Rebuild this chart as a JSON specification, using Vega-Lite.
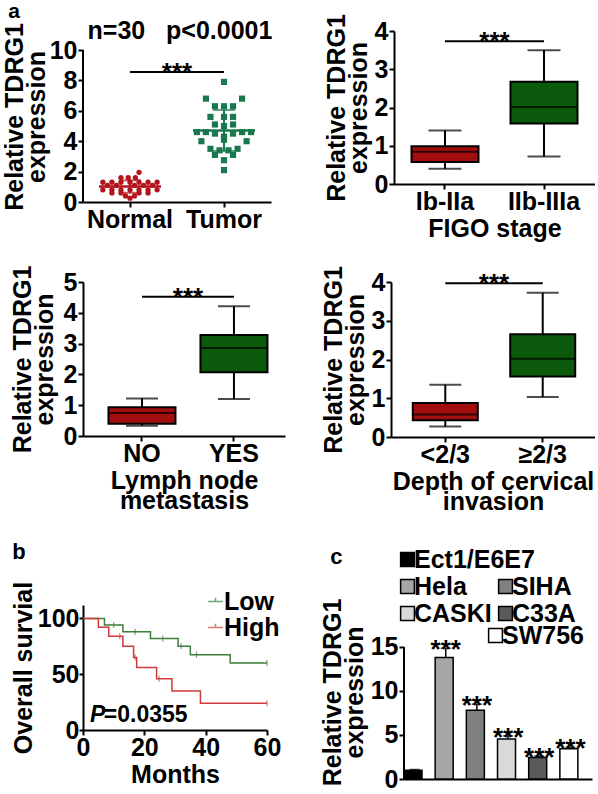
{
  "$schema": "https://vega.github.io/schema/vega-lite/v6.json",
  "background": "white",
  "padding": {"left": 2, "top": 0, "right": 0, "bottom": 0},
  "title": {"text": "a", "anchor": "start", "fontSize": 21, "offset": -8, "dx": 6},
  "config": {
    "font": "Liberation Sans",
    "view": {"stroke": null},
    "axis": {"labelFont": "Liberation Sans", "labelFontSize": 25, "labelFontWeight": "bold", "labelColor": "black", "titleFont": "Liberation Sans", "titleFontSize": 25, "titleFontWeight": "bold", "titleColor": "black", "domainColor": "black", "domainWidth": 2, "tickColor": "black", "tickWidth": 2, "tickSize": 5, "grid": false, "labelPadding": 1, "labelFlush": false, "labelOverlap": false},
    "axisX": {"titlePadding": 2, "labelPadding": 0, "titleLineHeight": 20},
    "axisY": {"titlePadding": 3, "titleLineHeight": 22},
    "title": {"font": "Liberation Sans", "fontWeight": "bold", "color": "black", "fontSize": 22},
    "legend": {"labelFont": "Liberation Sans", "labelFontSize": 25, "labelFontWeight": "bold", "labelColor": "black", "padding": 0},
    "text": {"font": "Liberation Sans", "fontWeight": "bold", "color": "black"}
  },
  "datasets": {
    "scatter": [
      {"g": "Normal", "v": 1.95, "j": 1}, {"g": "Normal", "v": 1.6, "j": -1}, {"g": "Normal", "v": 1.6, "j": -0.2}, {"g": "Normal", "v": 1.6, "j": 0.6},
      {"g": "Normal", "v": 1.3, "j": -3}, {"g": "Normal", "v": 1.3, "j": -2}, {"g": "Normal", "v": 1.3, "j": -1}, {"g": "Normal", "v": 1.3, "j": 0},
      {"g": "Normal", "v": 1.3, "j": 1}, {"g": "Normal", "v": 1.3, "j": 2}, {"g": "Normal", "v": 1.3, "j": 3},
      {"g": "Normal", "v": 1.1, "j": -2.5}, {"g": "Normal", "v": 1.1, "j": -1.5}, {"g": "Normal", "v": 1.1, "j": 0.5}, {"g": "Normal", "v": 1.1, "j": 1.5}, {"g": "Normal", "v": 1.1, "j": 2.5},
      {"g": "Normal", "v": 0.8, "j": -3}, {"g": "Normal", "v": 0.8, "j": -2}, {"g": "Normal", "v": 0.8, "j": -1}, {"g": "Normal", "v": 0.8, "j": 0},
      {"g": "Normal", "v": 0.8, "j": 1}, {"g": "Normal", "v": 0.8, "j": 2}, {"g": "Normal", "v": 0.8, "j": 3},
      {"g": "Normal", "v": 0.6, "j": -2}, {"g": "Normal", "v": 0.6, "j": -1}, {"g": "Normal", "v": 0.6, "j": 1}, {"g": "Normal", "v": 0.6, "j": 2},
      {"g": "Normal", "v": 0.4, "j": -0.5}, {"g": "Normal", "v": 0.4, "j": 0.5}, {"g": "Normal", "v": 0.25, "j": 0},
      {"g": "Tumor", "v": 7.9, "j": 0}, {"g": "Tumor", "v": 6.8, "j": -2}, {"g": "Tumor", "v": 6.8, "j": 2},
      {"g": "Tumor", "v": 6.3, "j": -1}, {"g": "Tumor", "v": 6.3, "j": 0}, {"g": "Tumor", "v": 6.3, "j": 1},
      {"g": "Tumor", "v": 5.6, "j": -1.5}, {"g": "Tumor", "v": 5.6, "j": 0}, {"g": "Tumor", "v": 5.6, "j": 1},
      {"g": "Tumor", "v": 5.1, "j": -1}, {"g": "Tumor", "v": 5.1, "j": 1}, {"g": "Tumor", "v": 5.0, "j": 0},
      {"g": "Tumor", "v": 4.6, "j": -3}, {"g": "Tumor", "v": 4.6, "j": -2}, {"g": "Tumor", "v": 4.5, "j": -1}, {"g": "Tumor", "v": 4.5, "j": 1},
      {"g": "Tumor", "v": 4.6, "j": 2}, {"g": "Tumor", "v": 4.6, "j": 3}, {"g": "Tumor", "v": 4.3, "j": 0},
      {"g": "Tumor", "v": 4.0, "j": -2.5}, {"g": "Tumor", "v": 4.0, "j": 2.5}, {"g": "Tumor", "v": 4.1, "j": 0},
      {"g": "Tumor", "v": 3.5, "j": -1.5}, {"g": "Tumor", "v": 3.4, "j": -0.5}, {"g": "Tumor", "v": 3.4, "j": 0.5}, {"g": "Tumor", "v": 3.5, "j": 1.5},
      {"g": "Tumor", "v": 3.1, "j": -1}, {"g": "Tumor", "v": 3.1, "j": 1}, {"g": "Tumor", "v": 2.75, "j": 0}, {"g": "Tumor", "v": 2.1, "j": 0}
    ],
    "km": [
      {"grp": "Low", "m": 0, "s": 100}, {"grp": "Low", "m": 7, "s": 94}, {"grp": "Low", "m": 13, "s": 88}, {"grp": "Low", "m": 22, "s": 82},
      {"grp": "Low", "m": 31, "s": 75}, {"grp": "Low", "m": 35, "s": 67.5}, {"grp": "Low", "m": 48, "s": 60}, {"grp": "Low", "m": 60, "s": 60},
      {"grp": "High", "m": 0, "s": 100}, {"grp": "High", "m": 5, "s": 92}, {"grp": "High", "m": 8.4, "s": 84}, {"grp": "High", "m": 13, "s": 75},
      {"grp": "High", "m": 16.5, "s": 65}, {"grp": "High", "m": 17.5, "s": 56}, {"grp": "High", "m": 24, "s": 46}, {"grp": "High", "m": 29, "s": 35},
      {"grp": "High", "m": 38.3, "s": 24}, {"grp": "High", "m": 60, "s": 24}
    ],
    "censor": [
      {"grp": "Low", "m": 10, "s": 94}, {"grp": "Low", "m": 17, "s": 88}, {"grp": "Low", "m": 26, "s": 82}, {"grp": "Low", "m": 32, "s": 75},
      {"grp": "Low", "m": 37, "s": 67.5}, {"grp": "Low", "m": 60, "s": 60},
      {"grp": "High", "m": 12, "s": 84}, {"grp": "High", "m": 17, "s": 65}, {"grp": "High", "m": 24.8, "s": 46}, {"grp": "High", "m": 60, "s": 24}
    ],
    "cells": [
      {"cell": "Ect1/E6E7", "v": 1.0, "err": 1.08}, {"cell": "Hela", "v": 13.8, "err": 14.85}, {"cell": "SIHA", "v": 7.8, "err": 8.5},
      {"cell": "CASKI", "v": 4.55, "err": 4.9}, {"cell": "C33A", "v": 2.45, "err": 2.6}, {"cell": "SW756", "v": 3.45, "err": 3.6}
    ]
  },
  "spacing": 27,
  "resolve": {"scale": {"color": "independent", "fill": "independent", "shape": "independent", "size": "independent"}, "legend": {"color": "independent", "fill": "independent", "shape": "independent", "size": "independent"}},
  "vconcat": [
    {
      "spacing": 24,
      "resolve": {"scale": {"color": "independent", "fill": "independent", "shape": "independent", "size": "independent"}, "legend": {"color": "independent", "fill": "independent", "shape": "independent", "size": "independent"}},
      "vconcat": [
        {
          "spacing": 51,
          "resolve": {"scale": {"color": "independent", "fill": "independent", "shape": "independent", "size": "independent"}, "legend": {"color": "independent", "fill": "independent", "shape": "independent", "size": "independent"}},
          "hconcat": [
            {
              "width": 188, "height": 171,
              "layer": [
                {
                  "data": {"name": "scatter"},
                  "mark": {"type": "point", "filled": true, "opacity": 1},
                  "encoding": {
                    "x": {"field": "g", "type": "nominal", "scale": {"domain": ["Normal", "Tumor"], "paddingInner": 0, "paddingOuter": 0}, "axis": {"title": null, "labelAngle": 0}},
                    "xOffset": {"field": "j", "type": "quantitative", "scale": {"domain": [-5.2, 5.2]}},
                    "y": {"field": "v", "type": "quantitative", "scale": {"domain": [0, 11.25], "nice": false}, "axis": {"values": [0, 2, 4, 6, 8, 10], "tickCount": 20, "format": "d", "domain": false, "titlePadding": 0}, "title": ["Relative TDRG1", "expression"]},
                    "color": {"field": "g", "type": "nominal", "scale": {"domain": ["Normal", "Tumor"], "range": ["#b3141b", "#19794d"]}, "legend": null},
                    "shape": {"field": "g", "type": "nominal", "scale": {"domain": ["Normal", "Tumor"], "range": ["circle", "square"]}, "legend": null},
                    "size": {"field": "g", "type": "nominal", "scale": {"domain": ["Normal", "Tumor"], "range": [28, 38]}, "legend": null}
                  }
                },
                {
                  "data": {"name": "scatter"},
                  "mark": {"type": "errorbar", "extent": "stdev", "ticks": {"size": 22}, "thickness": 2},
                  "encoding": {
                    "x": {"field": "g", "type": "nominal"},
                    "y": {"field": "v", "type": "quantitative", "title": ["Relative TDRG1", "expression"]},
                    "color": {"field": "g", "type": "nominal", "legend": null}
                  }
                },
                {
                  "data": {"name": "scatter"},
                  "mark": {"type": "tick", "size": 62, "thickness": 2.5},
                  "encoding": {
                    "x": {"field": "g", "type": "nominal"},
                    "y": {"aggregate": "mean", "field": "v", "type": "quantitative", "title": ["Relative TDRG1", "expression"]},
                    "color": {"field": "g", "type": "nominal", "legend": null}
                  }
                },
                {
                  "data": {"values": [{"a": "Normal", "b": "Tumor", "y": 8.55, "top": 10, "zero": 0}]},
                  "layer": [
                    {"mark": {"type": "rule", "strokeWidth": 2, "color": "black"},
                     "encoding": {"x": {"field": "a", "type": "nominal", "bandPosition": 0}, "y": {"field": "zero", "type": "quantitative", "title": ["Relative TDRG1", "expression"]}, "y2": {"field": "top"}}},
                    {"mark": {"type": "rule", "strokeWidth": 2, "color": "black"},
                     "encoding": {"x": {"field": "a", "type": "nominal"}, "x2": {"field": "b"}, "y": {"field": "y", "type": "quantitative"}}},
                    {"mark": {"type": "text", "text": "***", "fontSize": 26, "baseline": "alphabetic", "dy": 9},
                     "encoding": {"x": {"field": "b", "type": "nominal", "bandPosition": 0}, "y": {"field": "y", "type": "quantitative"}}},
                    {"mark": {"type": "text", "text": "n=30\u00a0\u00a0\u00a0p<0.0001", "fontSize": 25, "baseline": "alphabetic", "dy": -11, "dx": 3},
                     "encoding": {"x": {"field": "b", "type": "nominal", "bandPosition": 0}, "y": {"field": "top", "type": "quantitative"}}}
                  ]
                }
              ]
            },
            {
              "width": 201, "height": 153,
              "data": {"values": [
                {"cat": "Ib-IIa", "lo": 0.4, "q1": 0.575, "med": 0.84, "q3": 0.99, "hi": 1.4, "grp": "low"},
                {"cat": "IIb-IIIa", "lo": 0.72, "q1": 1.58, "med": 2.01, "q3": 2.67, "hi": 3.5, "grp": "high"}
              ]},
              "encoding": {"x": {"field": "cat", "type": "nominal", "scale": {"domain": ["Ib-IIa", "IIb-IIIa"], "paddingInner": 0, "paddingOuter": 0.015, "align": 0.5}, "axis": {"labelAngle": 0}, "title": "FIGO stage"}},
              "layer": [
                {"mark": {"type": "rule", "color": "black", "strokeWidth": 2},
                 "encoding": {"y": {"field": "lo", "type": "quantitative", "scale": {"domain": [0, 4], "nice": false}, "axis": {"values": [0, 1, 2, 3, 4], "tickCount": 20, "format": "d"}, "title": ["Relative TDRG1", "expression"]}, "y2": {"field": "hi"}}},
                {"mark": {"type": "tick", "color": "black", "thickness": 2, "size": 33}, "encoding": {"y": {"field": "lo", "type": "quantitative"}}},
                {"mark": {"type": "tick", "color": "black", "thickness": 2, "size": 33}, "encoding": {"y": {"field": "hi", "type": "quantitative"}}},
                {"mark": {"type": "bar", "width": 67, "stroke": "black", "strokeWidth": 2},
                 "encoding": {"y": {"field": "q1", "type": "quantitative"}, "y2": {"field": "q3"}, "fill": {"field": "grp", "type": "nominal", "scale": {"domain": ["low", "high"], "range": ["#a20d0d", "#0b5a0b"]}, "legend": null}}},
                {"mark": {"type": "tick", "color": "black", "thickness": 2, "size": 67}, "encoding": {"y": {"field": "med", "type": "quantitative"}}},
                {
                  "data": {"values": [{"a": "Ib-IIa", "b": "IIb-IIIa", "y": 3.73}]},
                  "layer": [
                    {"mark": {"type": "rule", "strokeWidth": 2, "color": "black"},
                     "encoding": {"x": {"field": "a", "type": "nominal"}, "x2": {"field": "b"}, "y": {"field": "y", "type": "quantitative"}}},
                    {"mark": {"type": "text", "text": "***", "fontSize": 26, "baseline": "alphabetic", "dy": 9},
                     "encoding": {"x": {"field": "b", "type": "nominal", "bandPosition": 0}, "y": {"field": "y", "type": "quantitative"}}}
                  ]
                }
              ]
            }
          ]
        },
        {
          "spacing": 36,
          "resolve": {"scale": {"color": "independent", "fill": "independent"}, "legend": {"color": "independent", "fill": "independent"}},
          "hconcat": [
            {
              "width": 202, "height": 154,
              "data": {"values": [
                {"cat": "NO", "lo": 0.33, "q1": 0.4, "med": 0.75, "q3": 0.93, "hi": 1.22, "grp": "low"},
                {"cat": "YES", "lo": 1.2, "q1": 2.07, "med": 2.86, "q3": 3.28, "hi": 4.21, "grp": "high"}
              ]},
              "encoding": {"x": {"field": "cat", "type": "nominal", "scale": {"domain": ["NO", "YES"], "paddingInner": 0, "paddingOuter": 0.098, "align": 0.72}, "axis": {"labelAngle": 0}, "title": ["Lymph node", "metastasis"]}},
              "layer": [
                {"mark": {"type": "rule", "color": "black", "strokeWidth": 2},
                 "encoding": {"y": {"field": "lo", "type": "quantitative", "scale": {"domain": [0, 5], "nice": false}, "axis": {"values": [0, 1, 2, 3, 4, 5], "tickCount": 20, "format": "d", "titlePadding": 6}, "title": ["Relative TDRG1", "expression"]}, "y2": {"field": "hi"}}},
                {"mark": {"type": "tick", "color": "black", "thickness": 2, "size": 32}, "encoding": {"y": {"field": "lo", "type": "quantitative"}}},
                {"mark": {"type": "tick", "color": "black", "thickness": 2, "size": 32}, "encoding": {"y": {"field": "hi", "type": "quantitative"}}},
                {"mark": {"type": "bar", "width": 67, "stroke": "black", "strokeWidth": 2},
                 "encoding": {"y": {"field": "q1", "type": "quantitative"}, "y2": {"field": "q3"}, "fill": {"field": "grp", "type": "nominal", "scale": {"domain": ["low", "high"], "range": ["#a20d0d", "#0b5a0b"]}, "legend": null}}},
                {"mark": {"type": "tick", "color": "black", "thickness": 2, "size": 67}, "encoding": {"y": {"field": "med", "type": "quantitative"}}},
                {
                  "data": {"values": [{"a": "NO", "b": "YES", "y": 4.52}]},
                  "layer": [
                    {"mark": {"type": "rule", "strokeWidth": 2, "color": "black"},
                     "encoding": {"x": {"field": "a", "type": "nominal"}, "x2": {"field": "b"}, "y": {"field": "y", "type": "quantitative"}}},
                    {"mark": {"type": "text", "text": "***", "fontSize": 26, "baseline": "alphabetic", "dy": 9},
                     "encoding": {"x": {"field": "b", "type": "nominal", "bandPosition": 0}, "y": {"field": "y", "type": "quantitative"}}}
                  ]
                }
              ]
            },
            {
              "width": 204, "height": 155,
              "data": {"values": [
                {"cat": "<2/3", "lo": 0.27, "q1": 0.43, "med": 0.58, "q3": 0.88, "hi": 1.35, "grp": "low"},
                {"cat": "≥2/3", "lo": 1.03, "q1": 1.56, "med": 2.02, "q3": 2.65, "hi": 3.72, "grp": "high"}
              ]},
              "encoding": {"x": {"field": "cat", "type": "nominal", "scale": {"domain": ["<2/3", "≥2/3"], "paddingInner": 0, "paddingOuter": 0.047, "align": 0.61}, "axis": {"labelAngle": 0}, "title": ["Depth of cervical", "invasion"]}},
              "layer": [
                {"mark": {"type": "rule", "color": "black", "strokeWidth": 2},
                 "encoding": {"y": {"field": "lo", "type": "quantitative", "scale": {"domain": [0, 4], "nice": false}, "axis": {"values": [0, 1, 2, 3, 4], "tickCount": 20, "format": "d"}, "title": ["Relative TDRG1", "expression"]}, "y2": {"field": "hi"}}},
                {"mark": {"type": "tick", "color": "black", "thickness": 2, "size": 32}, "encoding": {"y": {"field": "lo", "type": "quantitative"}}},
                {"mark": {"type": "tick", "color": "black", "thickness": 2, "size": 32}, "encoding": {"y": {"field": "hi", "type": "quantitative"}}},
                {"mark": {"type": "bar", "width": 65, "stroke": "black", "strokeWidth": 2},
                 "encoding": {"y": {"field": "q1", "type": "quantitative"}, "y2": {"field": "q3"}, "fill": {"field": "grp", "type": "nominal", "scale": {"domain": ["low", "high"], "range": ["#a20d0d", "#0b5a0b"]}, "legend": null}}},
                {"mark": {"type": "tick", "color": "black", "thickness": 2, "size": 65}, "encoding": {"y": {"field": "med", "type": "quantitative"}}},
                {
                  "data": {"values": [{"a": "<2/3", "b": "≥2/3", "y": 3.97}]},
                  "layer": [
                    {"mark": {"type": "rule", "strokeWidth": 2, "color": "black"},
                     "encoding": {"x": {"field": "a", "type": "nominal"}, "x2": {"field": "b"}, "y": {"field": "y", "type": "quantitative"}}},
                    {"mark": {"type": "text", "text": "***", "fontSize": 26, "baseline": "alphabetic", "dy": 9},
                     "encoding": {"x": {"field": "b", "type": "nominal", "bandPosition": 0}, "y": {"field": "y", "type": "quantitative"}}}
                  ]
                }
              ]
            }
          ]
        }
      ]
    },
    {
      "spacing": 39,
      "resolve": {"scale": {"color": "independent", "fill": "independent"}, "legend": {"color": "independent", "fill": "independent"}},
      "hconcat": [
        {
          "resolve": {"scale": {"color": "independent"}, "legend": {"color": "independent"}},
          "vconcat": [
            {
              "width": 184, "height": 125,
              "title": {"text": "b", "anchor": "start", "fontSize": 22, "offset": 17, "dx": 1},
              "layer": [
                {
                  "data": {"name": "km"},
                  "mark": {"type": "line", "interpolate": "step-after", "strokeWidth": 1.5},
                  "encoding": {
                    "x": {"field": "m", "type": "quantitative", "scale": {"domain": [0, 60], "nice": false}, "axis": {"values": [0, 20, 40, 60], "tickCount": 20, "format": "d"}, "title": "Months"},
                    "y": {"field": "s", "type": "quantitative", "scale": {"domain": [0, 112], "nice": false}, "axis": {"values": [0, 50, 100], "tickCount": 20, "format": "d", "titlePadding": 1, "labelPadding": 0, "tickSize": 4}, "title": "Overall survial"},
                    "color": {"field": "grp", "type": "nominal", "scale": {"domain": ["Low", "High"], "range": ["#3d7f3a", "#cf3a3a"]},
                      "legend": {"title": null, "orient": "none", "legendX": 120, "legendY": -16, "symbolType": "M-1,0H1M0,0V-0.5", "symbolSize": 220, "symbolStrokeWidth": 1.5, "labelOffset": -4, "rowPadding": -2}}
                  }
                },
                {
                  "data": {"name": "censor"},
                  "mark": {"type": "tick", "orient": "vertical", "size": 6, "thickness": 1.2},
                  "encoding": {
                    "x": {"field": "m", "type": "quantitative"},
                    "y": {"field": "s", "type": "quantitative"},
                    "color": {"field": "grp", "type": "nominal"}
                  }
                },
                {
                  "data": {"values": [{}]},
                  "mark": {"type": "text", "text": "P", "fontSize": 23, "fontStyle": "italic", "align": "left", "baseline": "alphabetic"},
                  "encoding": {"x": {"datum": 2.3, "type": "quantitative"}, "y": {"datum": 7, "type": "quantitative"}}
                },
                {
                  "data": {"values": [{}]},
                  "mark": {"type": "text", "text": "=0.0355", "fontSize": 23, "align": "left", "baseline": "alphabetic"},
                  "encoding": {"x": {"datum": 6.8, "type": "quantitative"}, "y": {"datum": 7, "type": "quantitative"}}
                }
              ]
            }
          ]
        },
        {
          "resolve": {"scale": {"fill": "independent"}, "legend": {"fill": "independent"}},
          "vconcat": [
            {
              "width": 188, "height": 174,
              "title": {"text": "c", "anchor": "start", "fontSize": 22, "dx": 10, "offset": -22},
              "data": {"name": "cells"},
              "encoding": {"x": {"field": "cell", "type": "nominal", "scale": {"domain": ["Ect1/E6E7", "Hela", "SIHA", "CASKI", "C33A", "SW756"], "paddingInner": 0.323, "paddingOuter": 0.177, "align": 0}, "axis": {"labels": false, "ticks": false}, "title": null}},
              "layer": [
                {"transform": [{"filter": {"field": "cell", "oneOf": ["Ect1/E6E7", "Hela", "CASKI"]}}],
                 "mark": {"type": "bar", "stroke": "black", "strokeWidth": 1.5},
                 "encoding": {"y": {"field": "v", "type": "quantitative", "scale": {"domain": [0, 19.77], "nice": false}, "axis": {"values": [0, 5, 10, 15], "tickCount": 20, "format": "d", "domain": false}, "title": ["Relative TDRG1", "expression"]},
                   "fill": {"field": "cell", "type": "nominal", "scale": {"domain": ["Ect1/E6E7", "Hela", "CASKI"], "range": ["#000000", "#a6a6a6", "#d9d9d9"]},
                     "legend": {"title": null, "orient": "none", "legendX": -9, "legendY": -58, "symbolType": "square", "symbolSize": 190, "symbolStrokeColor": "black", "symbolStrokeWidth": 1.5, "labelOffset": -6, "rowPadding": 1}}}},
                {"transform": [{"filter": {"field": "cell", "oneOf": ["SIHA", "C33A"]}}],
                 "mark": {"type": "bar", "stroke": "black", "strokeWidth": 1.5},
                 "encoding": {"y": {"field": "v", "type": "quantitative"},
                   "fill": {"field": "cell", "type": "nominal", "scale": {"domain": ["SIHA", "C33A"], "range": ["#808080", "#5a5a5a"]},
                     "legend": {"title": null, "orient": "none", "legendX": 89, "legendY": -31, "symbolType": "square", "symbolSize": 190, "symbolStrokeColor": "black", "symbolStrokeWidth": 1.5, "labelOffset": -6, "rowPadding": 1}}}},
                {"transform": [{"filter": {"field": "cell", "oneOf": ["SW756"]}}],
                 "mark": {"type": "bar", "stroke": "black", "strokeWidth": 1.5},
                 "encoding": {"y": {"field": "v", "type": "quantitative"},
                   "fill": {"field": "cell", "type": "nominal", "scale": {"domain": ["SW756"], "range": ["#ffffff"]},
                     "legend": {"title": null, "orient": "none", "legendX": 79, "legendY": 18, "symbolType": "square", "symbolSize": 190, "symbolStrokeColor": "black", "symbolStrokeWidth": 1.5, "labelOffset": -6, "rowPadding": 1}}}},
                {"data": {"values": [{"cell": "Ect1/E6E7", "y0": 0, "y1": 15}]},
                 "mark": {"type": "rule", "color": "black", "strokeWidth": 2},
                 "encoding": {"x": {"field": "cell", "type": "nominal", "bandPosition": 0}, "y": {"field": "y0", "type": "quantitative"}, "y2": {"field": "y1"}}},
                {"mark": {"type": "rule", "color": "black", "strokeWidth": 1.5},
                 "encoding": {"y": {"field": "v", "type": "quantitative"}, "y2": {"field": "err"}}},
                {"mark": {"type": "tick", "color": "black", "thickness": 1.5, "size": 10},
                 "encoding": {"y": {"field": "err", "type": "quantitative"}}},
                {"transform": [{"filter": {"field": "cell", "oneOf": ["Hela", "SIHA", "CASKI", "C33A", "SW756"]}}],
                 "mark": {"type": "text", "text": "***", "fontSize": 26, "baseline": "alphabetic", "dy": 10},
                 "encoding": {"y": {"field": "err", "type": "quantitative"}}}
              ],
              "resolve": {"scale": {"fill": "independent"}, "legend": {"fill": "independent"}}
            }
          ]
        }
      ]
    }
  ]
}
